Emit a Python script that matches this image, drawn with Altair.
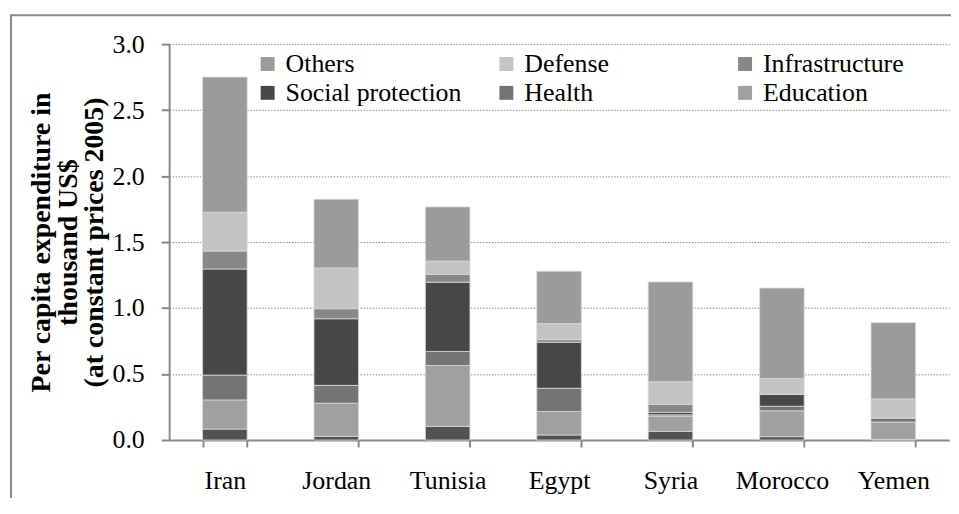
import altair as alt
import pandas as pd

countries = ["Iran", "Jordan", "Tunisia", "Egypt", "Syria", "Morocco", "Yemen"]
series = ["Public order", "Education", "Health", "Social protection",
          "Infrastructure", "Defense", "Others"]
public_order = [0.083, 0.028, 0.103, 0.038, 0.066, 0.025, 0.004]
education = [0.221, 0.251, 0.462, 0.178, 0.115, 0.196, 0.132]
health = [0.188, 0.135, 0.106, 0.176, 0.010, 0.035, 0.032]
social = [0.804, 0.505, 0.525, 0.349, 0.018, 0.091, 0.0]
infra = [0.136, 0.076, 0.060, 0.020, 0.062, 0.0, 0.0]
defense = [0.294, 0.309, 0.100, 0.121, 0.171, 0.120, 0.143]
others = [1.024, 0.520, 0.410, 0.397, 0.756, 0.684, 0.578]
colors = ["#525252", "#a0a0a0", "#747474", "#474747", "#878787", "#c3c3c3", "#9b9b9b"]
legend_items = ["Others", "Defense", "Infrastructure", "Social protection", "Health", "Education"]
y_ticks = [0.0, 0.5, 1.0, 1.5, 2.0, 2.5, 3.0]

values = [public_order, education, health, social, infra, defense, others]
rows = []
for si, (name, vals) in enumerate(zip(series, values)):
    for c, v in zip(countries, vals):
        rows.append({"country": c, "series": name, "value": v, "order": si})
df = pd.DataFrame(rows)

W, H = 784, 398
FONT = "Liberation Serif"
AX = "#8a8a8a"

bars = alt.Chart(df).mark_bar(stroke="#d8d8d8", strokeWidth=0.8).encode(
    x=alt.X("country:N", sort=countries, title=None,
            scale=alt.Scale(paddingInner=0.6, paddingOuter=0.3),
            axis=alt.Axis(labelAngle=0, tickBand="extent", tickSize=7, tickWidth=2,
                          tickColor=AX, domainColor=AX, domainWidth=2,
                          labelPadding=21, labelFontSize=26, labelFont=FONT,
                          labelColor="black", grid=False)),
    y=alt.Y("value:Q", stack="zero", scale=alt.Scale(domain=[0, 3]),
            title=["Per capita expenditure in", "thousand US$", "(at constant prices 2005)"],
            axis=alt.Axis(values=y_ticks, format=".1f", tickSize=8, tickWidth=2,
                          tickColor=AX, domainColor=AX, domainWidth=2,
                          labelPadding=17, labelFontSize=26, labelFont=FONT,
                          labelColor="black", grid=True, gridColor="#8c8c8c",
                          gridDash=[1.5, 1.5], gridWidth=1,
                          titleFont=FONT, titleFontSize=28, titleFontWeight="bold",
                          titleLineHeight=27, titleColor="black", titlePadding=3)),
    color=alt.Color("series:N", scale=alt.Scale(domain=series, range=colors),
                    legend=alt.Legend(values=legend_items, title=None, orient="none",
                                      direction="horizontal",
                                      legendX=86, legendY=7, columns=3, gridAlign="all",
                                      columnPadding=32, rowPadding=3, padding=0,
                                      symbolType="square", symbolSize=196,
                                      symbolStrokeWidth=0, symbolOpacity=1,
                                      labelFont=FONT, labelFontSize=26, labelOffset=5,
                                      labelColor="black", labelLimit=400)),
    order=alt.Order("order:Q", sort="ascending"),
)

frame = alt.Chart(alt.Data(values=[{"a": 1}])).mark_rect(
    filled=False, stroke="#8a8a8a", strokeWidth=2, clip=False
).encode(
    x=alt.value(-159), x2=alt.value(W + 60),
    y=alt.value(-29), y2=alt.value(H + 150),
)

chart = alt.layer(frame, bars).properties(
    width=W, height=H,
    autosize=alt.AutoSizeParams(type="none"),
    padding={"left": 162, "top": 35, "right": 2, "bottom": 57},
).configure(
    background="white", font=FONT
).configure_view(stroke=None).configure_axis(
    labelFont=FONT, titleFont=FONT
).configure_legend(
    labelFont=FONT
)

chart.save("out.html", embed_options={"renderer": "svg", "actions": False})
